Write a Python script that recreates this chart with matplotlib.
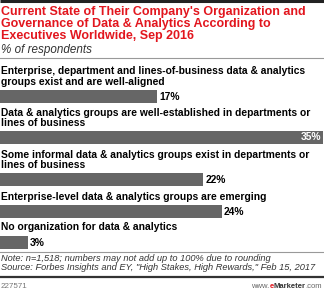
import matplotlib
matplotlib.use("Agg")
import matplotlib.pyplot as plt

# chart data
labels = [
    "Enterprise, department and lines-of-business data & analytics\ngroups exist and are well-aligned",
    "Data & analytics groups are well-established in departments or\nlines of business",
    "Some informal data & analytics groups exist in departments or\nlines of business",
    "Enterprise-level data & analytics groups are emerging",
    "No organization for data & analytics",
]
values = [17, 35, 22, 24, 3]

title = ("Current State of Their Company's Organization and\n"
         "Governance of Data & Analytics According to\n"
         "Executives Worldwide, Sep 2016")
subtitle = "% of respondents"
note = ("Note: n=1,518; numbers may not add up to 100% due to rounding\n"
        "Source: Forbes Insights and EY, \"High Stakes, High Rewards,\" Feb 15, 2017")
chart_id = "227571"

W, H = 324, 295
RED = "#e2161e"
BAR = "#666666"

fig = plt.figure(figsize=(W / 100, H / 100), dpi=100)
fig.patch.set_facecolor("white")
renderer = fig.canvas.get_renderer()


def fit(t, width_px):
    # shrink/grow a text so its widest line spans width_px
    w = t.get_window_extent(renderer).width
    t.set_fontsize(t.get_fontsize() * width_px / w)
    return t


def width(t):
    return t.get_window_extent(renderer).width


# overlay axes in pixel units for text and rules
ov = fig.add_axes([0, 0, 1, 1])
ov.set_xlim(0, W)
ov.set_ylim(H, 0)
ov.axis("off")

# bar axes, same vertical pixel scale
ax = fig.add_axes([0, 0, 1, 1])
ax.set_xlim(0, 35.1)
ax.set_ylim(H, 0)
ax.axis("off")
ax.patch.set_alpha(0)

bar_y = [96.5, 137.5, 179.5, 211.5, 242.5]
label_y = [72, 113, 155, 197, 228]
ax.barh(bar_y, values, height=13.5, color=BAR, edgecolor="none")

lab_size = None
for i, (yb, yl, v, lab) in enumerate(zip(bar_y, label_y, values, labels)):
    t = ov.text(1, yl - 5.5, lab, fontsize=7.2, fontweight="bold", color="black",
                va="top", ha="left", linespacing=1.1, family="Liberation Sans")
    if i == 0:
        fit(t, 303)
        lab_size = t.get_fontsize()
    else:
        t.set_fontsize(lab_size)
    if v >= 30:
        ax.text(v - 0.2, yb, "%d%%" % v, fontsize=lab_size, fontweight="bold",
                color="white", va="center", ha="right", family="Liberation Sans")
    else:
        ax.text(v + 0.25, yb + 0.5, "%d%%" % v, fontsize=lab_size, fontweight="bold",
                color="black", va="center", ha="left", family="Liberation Sans")

# rules
ov.plot([0, W], [1, 1], color="#222222", lw=2.2, solid_capstyle="butt")
ov.plot([0, W], [58, 58], color="#999999", lw=0.8)
ov.plot([0, W], [252, 252], color="#999999", lw=0.8)
ov.plot([0, W], [277, 277], color="#333333", lw=1.6)

# header
tt = ov.text(1, 6, title, fontsize=8.4, fontweight="bold", color=RED,
             va="top", ha="left", linespacing=1.0, family="Liberation Sans")
fit(tt, 304)
st = ov.text(1, 44, subtitle, fontsize=7, style="italic", color="#333333",
             va="top", ha="left", family="Liberation Sans")
fit(st, 90)

# footer
nt = ov.text(1, 254, note, fontsize=6.4, style="italic", color="#333333",
             va="top", ha="left", linespacing=1.0, family="Liberation Sans")
fit(nt, 315)
ov.text(1, 287, chart_id, fontsize=5.8, color="#777777", va="center", ha="left",
        family="Liberation Sans")

# www.eMarketer.com, built right to left
x = W - 2
parts = [(".com", "normal", "#666666"), ("Marketer", "bold", "#333333"),
         ("e", "bold", RED), ("www.", "normal", "#666666")]
for s, fw, c in parts:
    p = ov.text(x, 287, s, fontsize=5.5, fontweight=fw, color=c, va="center",
                ha="right", family="Liberation Sans")
    x -= width(p) * 1.0

fig.savefig("out.png", dpi=100, facecolor="white")
